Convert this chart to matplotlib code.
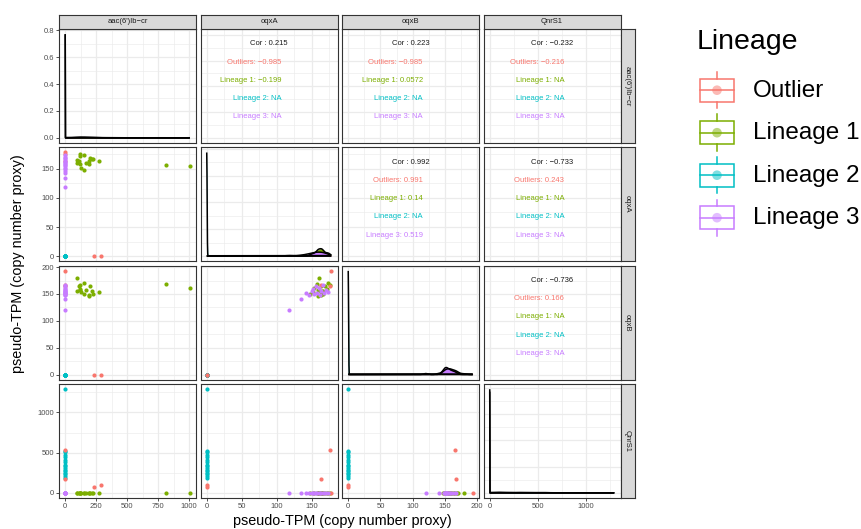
import numpy as np
import matplotlib
matplotlib.use("Agg")
import matplotlib.pyplot as plt
from matplotlib.patches import Rectangle, Circle

plt.rcParams['font.family'] = ['Liberation Sans', 'DejaVu Sans']

# ---------------- data ----------------
genes = ["aac(6')Ib\u2212cr", "oqxA", "oqxB", "QnrS1"]
groups = ["Outlier", "Lineage 1", "Lineage 2", "Lineage 3"]
colors = ["#F8766D", "#7CAE00", "#00BFC4", "#C77CFF"]

out_aac = [233, 288, 0, 0, 0]
out_oqxA = [0, 0, 178, 176, 163]
out_oqxB = [0, 0, 193, 165, 167]
out_qnr = [77, 93, 0, 537, 168]

l1_aac = [96, 96, 112, 117, 117, 117, 128, 152, 155, 169, 193, 196, 204, 215, 225, 271, 812, 1006]
l1_oqxA = [165, 160, 163, 176, 172, 159, 152, 148, 173, 160, 159, 164, 169, 166, 166, 163, 157, 154]
l1_oqxB = [156, 179, 164, 167, 160, 157, 154, 150, 170, 158, 147, 149, 164, 156, 150, 153, 168, 161]
l1_qnr = [0, 0, 0, 0, 0, 0, 0, 0, 0, 0, 0, 0, 0, 0, 0, 0, 0, 0]

l2_aac = [0, 0, 0, 0, 0, 0, 0, 0, 0, 0, 0, 0, 0, 0, 0, 0]
l2_oqxA = [0, 0, 0, 0, 0, 0, 0, 0, 0, 0, 0, 0, 0, 0, 0, 0]
l2_oqxB = [0, 0, 0, 0, 0, 0, 0, 0, 0, 0, 0, 0, 0, 0, 0, 0]
l2_qnr = [1290, 521, 505, 470, 440, 410, 380, 350, 330, 310, 290, 270, 250, 230, 210, 185]

l3_aac = [0, 0, 0, 0, 0, 0, 0, 0, 0, 0, 0, 0, 0, 0, 0, 0]
l3_oqxA = [118, 135, 142, 146, 150, 152, 154, 156, 158, 160, 162, 164, 166, 168, 170, 173]
l3_oqxB = [120, 140, 151, 148, 155, 160, 150, 165, 152, 162, 148, 156, 167, 151, 158, 153]
l3_qnr = [0, 0, 0, 0, 0, 0, 0, 0, 0, 0, 0, 0, 0, 0, 0, 0]

# correlation labels (upper panels, order: (1,2),(1,3),(1,4),(2,3),(2,4),(3,4))
cor_all = ["0.215", "0.223", "\u22120.232", "0.992", "\u22120.733", "\u22120.736"]
cor_outlier = ["\u22120.985", "\u22120.985", "\u22120.216", "0.991", "0.243", "0.166"]
cor_l1 = ["\u22120.199", "0.0572", "NA", "0.14", "NA", "NA"]
cor_l2 = ["NA", "NA", "NA", "NA", "NA", "NA"]
cor_l3 = ["NA", "NA", "NA", "0.519", "NA", "NA"]
cor_names = ["Outliers", "Lineage 1", "Lineage 2", "Lineage 3"]

major_ticks = {
    0: [0, 250, 500, 750, 1000],
    1: [0, 50, 100, 150],
    2: [0, 50, 100, 150, 200],
    3: [0, 500, 1000],
}
density_ticks = [0.0, 0.2, 0.4, 0.6, 0.8]

data = {
    "Outlier": [out_aac, out_oqxA, out_oqxB, out_qnr],
    "Lineage 1": [l1_aac, l1_oqxA, l1_oqxB, l1_qnr],
    "Lineage 2": [l2_aac, l2_oqxA, l2_oqxB, l2_qnr],
    "Lineage 3": [l3_aac, l3_oqxA, l3_oqxB, l3_qnr],
}

# ---------------- helpers ----------------
W, H = 861, 529
fig = plt.figure(figsize=(W / 100, H / 100), dpi=100)


def box(left, top, w, h):
    return [left / W, 1 - (top + h) / H, w / W, h / H]


def bw_nrd0(x):
    x = np.asarray(x, float)
    n = len(x)
    hi = np.std(x, ddof=1)
    q75, q25 = np.percentile(x, [75, 25])
    lo = min(hi, (q75 - q25) / 1.34)
    if not lo:
        lo = hi or abs(x[0]) or 1.0
    return 0.9 * lo * n ** (-0.2)


def col_values(i):
    return np.concatenate([np.asarray(data[g][i], float) for g in groups])


def limits(i):
    v = col_values(i)
    lo, hi = v.min(), v.max()
    r = hi - lo
    return lo - 0.05 * r, hi + 0.05 * r


def minors(majors, lim):
    step = majors[1] - majors[0]
    cand = [m + step / 2 for m in majors] + [majors[0] - step / 2]
    return [c for c in cand if lim[0] <= c <= lim[1]]


GRID = "#EBEBEB"
BORDER = "#333333"

lefts = [59, 200.5, 342, 483.5]
tops = [29, 147.3, 265.7, 384]
PW, PH = 137, 114

# density precomputation
dens = {}
for i in range(4):
    v = col_values(i)
    grid = np.linspace(v.min(), v.max(), 512)
    curves = []
    for g in groups:
        x = np.asarray(data[g][i], float)
        bw = bw_nrd0(x)
        d = np.exp(-0.5 * ((grid[:, None] - x[None, :]) / bw) ** 2).sum(1) / (len(x) * bw * np.sqrt(2 * np.pi))
        curves.append(d)
    dens[i] = (grid, curves)

label_idx = {}
k = 0
for r in range(4):
    for c in range(r + 1, 4):
        label_idx[(r, c)] = k
        k += 1

draw_order = ["Lineage 1", "Lineage 2", "Outlier", "Lineage 3"]

for r in range(4):
    for c in range(4):
        ax = fig.add_axes(box(lefts[c], tops[r], PW, PH))
        xlim = limits(c)
        ax.set_xlim(*xlim)
        xmaj = major_ticks[c]
        if r == c:
            grid, curves = dens[c]
            mx = max(cv.max() for cv in curves)
            ylim = (-0.05 * mx, 1.05 * mx)
            ymaj = density_ticks
            for g, cv in zip(groups, curves):
                col = colors[groups.index(g)]
                ax.fill_between(grid, 0, cv, color=col, lw=0, zorder=2)
                ax.plot(grid, cv, color="black", lw=1.1, zorder=3, solid_capstyle="butt")
        else:
            ylim = limits(r)
            ymaj = major_ticks[r]
            if r > c:
                for zi, g in enumerate(draw_order):
                    col = colors[groups.index(g)]
                    ax.scatter(data[g][c], data[g][r], s=9, color=col, lw=0, zorder=3 + zi)
            else:
                j = label_idx[(r, c)]
                ax.text(0.5, 0.87, "Cor : " + cor_all[j], transform=ax.transAxes,
                        ha="center", va="center", fontsize=5.5, color="#1A1A1A")
                vals = [cor_outlier[j], cor_l1[j], cor_l2[j], cor_l3[j]]
                for gi, (nm, vv) in enumerate(zip(cor_names, vals)):
                    ax.text(0.59, 0.71 - gi * 0.16, f"{nm}: {vv}", transform=ax.transAxes,
                            ha="right", va="center", fontsize=5.5, color=colors[gi])
        ax.set_ylim(*ylim)
        ax.set_xticks(xmaj)
        ax.set_yticks(ymaj)
        ax.set_xticks(minors(xmaj, xlim), minor=True)
        ax.set_yticks(minors(ymaj, ylim), minor=True)
        ax.grid(True, which="major", color=GRID, lw=0.9, zorder=0)
        ax.grid(True, which="minor", color=GRID, lw=0.45, zorder=0)
        ax.set_axisbelow(True)
        ax.tick_params(which="minor", length=0)
        ax.tick_params(which="major", length=2.2, width=0.6, color=BORDER,
                       labelsize=5.5, labelcolor="#4D4D4D", pad=1.5)
        for sp in ax.spines.values():
            sp.set_color(BORDER)
            sp.set_linewidth(0.8)
        if c == 0:
            if r == 0:
                ax.set_yticklabels([f"{t:.1f}" for t in ymaj])
            else:
                ax.set_yticklabels([str(t) for t in ymaj])
        else:
            ax.tick_params(axis="y", which="major", length=0, labelleft=False)
        if r == 3:
            ax.set_xticklabels([str(t) for t in xmaj])
        else:
            ax.tick_params(axis="x", which="major", length=0, labelbottom=False)

        # strips
        if r == 0:
            sax = fig.add_axes(box(lefts[c], tops[0] - 14.5, PW, 14.5))
            sax.set_facecolor("#D9D9D9")
            sax.set_xticks([]); sax.set_yticks([])
            for sp in sax.spines.values():
                sp.set_color(BORDER); sp.set_linewidth(0.8)
            sax.text(0.5, 0.5, genes[c], ha="center", va="center", fontsize=5.5,
                     color="#1A1A1A", transform=sax.transAxes)
        if c == 3:
            sax = fig.add_axes(box(lefts[3] + PW, tops[r], 14, PH))
            sax.set_facecolor("#D9D9D9")
            sax.set_xticks([]); sax.set_yticks([])
            for sp in sax.spines.values():
                sp.set_color(BORDER); sp.set_linewidth(0.8)
            sax.text(0.5, 0.5, genes[r], ha="center", va="center", fontsize=5.5,
                     color="#1A1A1A", rotation=-90, transform=sax.transAxes)

# axis titles
fig.text(342.5 / W, 1 - 521 / H, "pseudo-TPM (copy number proxy)", ha="center", va="center",
         fontsize=10.4, color="black")
fig.text(18 / W, 1 - 263.5 / H, "pseudo-TPM (copy number proxy)", ha="center", va="center",
         fontsize=10.4, color="black", rotation=90)

# legend
lax = fig.add_axes([0, 0, 1, 1], facecolor="none")
lax.set_xlim(0, W)
lax.set_ylim(H, 0)
lax.axis("off")
lax.text(697, 42, "Lineage", ha="left", va="center", fontsize=20.5, color="black")
for gi, g in enumerate(groups):
    y = 90.2 + gi * 42.5
    col = colors[gi]
    lax.add_patch(Rectangle((700, y - 11.7), 34, 23.4, fill=False, edgecolor=col, lw=1.1))
    lax.plot([700, 734], [y, y], color=col, lw=1.1)
    lax.plot([717, 717], [y - 11.7 - 6.5, y - 11.7], color=col, lw=1.1)
    lax.plot([717, 717], [y + 11.7, y + 11.7 + 6.5], color=col, lw=1.1)
    lax.add_patch(Circle((717, y), 4.8, color=col, alpha=0.5, lw=0))
    lax.text(753, y + 0.5, g, ha="left", va="center", fontsize=17.5, color="black")

fig.savefig("out.png", dpi=100)
